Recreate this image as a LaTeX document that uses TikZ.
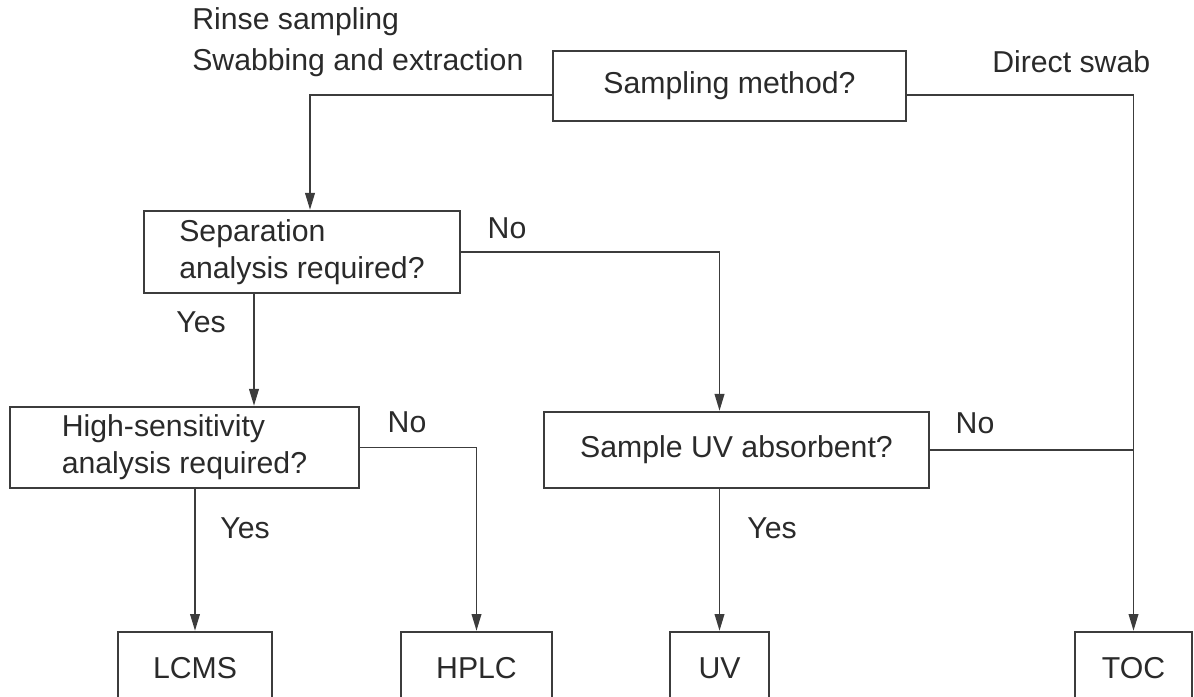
\documentclass[tikz,border=0pt]{standalone}
\usepackage{fontspec}
\setmainfont{Liberation Sans}
\usetikzlibrary{arrows.meta,positioning,calc}

\definecolor{linea}{HTML}{3C3C3C}
\definecolor{testo}{HTML}{2A2A2A}

\tikzset{
    box/.style={draw=linea, line width=1.7pt, inner sep=0pt, align=left},
    res/.style={box, minimum height=1.8cm},
    arr/.style={draw=linea, line width=1.3pt, -{Triangle[length=0.42cm, width=0.24cm]}},
    lab/.style={inner sep=0pt}
}

\begin{document}
\begin{tikzpicture}[x=0.025cm, y=-0.025cm, text=testo,
    font=\fontsize{21.5}{26.5}\selectfont]

    % frame of the page (bottom boxes run off the edge)
    \clip (0,0) rectangle (1194,696);

    % -- Decision boxes --
    \node[box, minimum width=8.825cm, minimum height=1.75cm] (samp) at (729.5,86) {Sampling method?};
    \node[box, minimum width=7.9cm, minimum height=2.05cm] (sep) at (302,252) {Separation\\analysis required?};
    \node[box, minimum width=8.725cm, minimum height=2.025cm] (hs) at (184.5,447.5) {High-sensitivity\\analysis required?};
    \node[box, minimum width=9.625cm, minimum height=1.9cm] (uvq) at (736.5,450) {Sample UV absorbent?};

    % -- Result boxes --
    \node[res, minimum width=3.85cm] (lcms) at (195,668) {LCMS};
    \node[res, minimum width=3.775cm] (hplc) at (476.5,668) {HPLC};
    \node[res, minimum width=2.475cm] (uvr) at (719.5,668) {UV};
    \node[res, minimum width=2.925cm] (toc) at (1133.5,668) {TOC};

    % -- Connectors --
    \draw[arr] ([yshift=-0.225cm]samp.west) -| ([xshift=0.2cm]sep.north);
    \draw[arr] ([yshift=-0.225cm]samp.east) -| (toc.north);
    \draw[arr] (sep.east) -| (uvq.north -| uvr.north);
    \draw[arr] ([xshift=-1.2cm]sep.south) -- ([xshift=-1.2cm]sep.south |- hs.north);
    \draw[arr] (hs.south -| lcms.north) -- (lcms.north);
    \draw[arr] (hs.east) -| (hplc.north);
    \draw[arr] (uvq.south -| uvr.north) -- (uvr.north);
    \draw[draw=linea, line width=1.3pt] (uvq.east) -- (uvq.east -| toc.north);

    % -- Branch labels --
    \node[lab, anchor=west] (rinse) at (192,22) {Rinse sampling};
    \node[lab, anchor=west] (swab) at (192,63) {Swabbing and extraction};
    \node[lab, anchor=west] (direct) at (992,62) {Direct swab};
    \node[lab] (no1) at (507,228) {No};
    \node[lab] (yes1) at (201,322) {Yes};
    \node[lab] (no2) at (407,422) {No};
    \node[lab] (yes2) at (245,528) {Yes};
    \node[lab] (no3) at (975,423) {No};
    \node[lab] (yes3) at (772,528) {Yes};
\end{tikzpicture}
\end{document}
